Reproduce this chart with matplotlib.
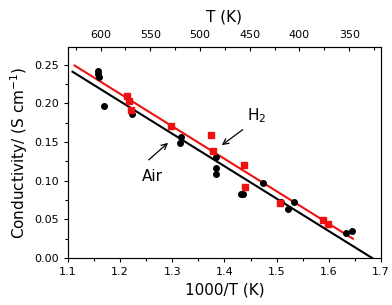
import matplotlib
matplotlib.use('Agg')
import matplotlib.pyplot as plt
from matplotlib.ticker import MultipleLocator

# Air data (black circles)
air_x = [1.158, 1.158, 1.159, 1.170, 1.223, 1.315, 1.317, 1.384, 1.384, 1.384,
         1.431, 1.436, 1.473, 1.508, 1.521, 1.533, 1.633, 1.644]
air_y = [0.242, 0.238, 0.234, 0.196, 0.186, 0.149, 0.157, 0.131, 0.117, 0.109,
         0.083, 0.083, 0.097, 0.073, 0.064, 0.073, 0.032, 0.035]

# H2 data (red squares)
h2_x = [1.214, 1.218, 1.221, 1.297, 1.374, 1.378, 1.438, 1.440, 1.506, 1.588, 1.599]
h2_y = [0.209, 0.203, 0.192, 0.171, 0.159, 0.139, 0.120, 0.092, 0.071, 0.049, 0.044]

# linear fits (end points)
air_fit_x = [1.109, 1.683]
air_fit_y = [0.241, 0.0]
h2_fit_x = [1.113, 1.646]
h2_fit_y = [0.249, 0.025]

top_ticks = [600, 550, 500, 450, 400, 350]

fig = plt.figure(figsize=(3.92, 3.05), dpi=100)
ax = fig.add_axes([0.173, 0.154, 0.799, 0.692])

ax.plot(air_fit_x, air_fit_y, color='black', lw=1.5)
ax.plot(h2_fit_x, h2_fit_y, color='#ee1111', lw=1.5)
ax.plot(air_x, air_y, 'o', color='black', ms=4)
ax.plot(h2_x, h2_y, 's', color='#ee1111', ms=4)

ax.set_xlim(1.1, 1.7)
ax.set_ylim(0, 0.273)
ax.xaxis.set_major_locator(MultipleLocator(0.1))
ax.xaxis.set_minor_locator(MultipleLocator(0.05))
ax.yaxis.set_major_locator(MultipleLocator(0.05))
ax.yaxis.set_minor_locator(MultipleLocator(0.025))
ax.tick_params(labelsize=8, length=3, width=0.8)
ax.tick_params(which='minor', length=2, width=0.8)
ax.set_xlabel('1000/T (K)', fontsize=11, labelpad=4)
ax.set_ylabel('Conductivity/ (S cm$^{-1}$)', fontsize=11, labelpad=3)
for s in ax.spines.values():
    s.set_color('#555555')

# top temperature axis (linear)
ax2 = ax.twiny()
ax2.set_xlim(633, 318)
ax2.set_xticks(top_ticks)
ax2.xaxis.set_minor_locator(MultipleLocator(25))
ax2.tick_params(direction='in', labelsize=8, length=3, width=0.8, pad=5)
ax2.tick_params(which='minor', direction='in', length=2, width=0.8)
ax2.set_xlabel('T (K)', fontsize=11, labelpad=6)

# labels and arrows
ax.text(1.462, 0.184, 'H$_2$', fontsize=11, ha='center', va='center')
ax.annotate('', xy=(1.395, 0.146), xytext=(1.435, 0.166),
            arrowprops=dict(arrowstyle='->', color='black', lw=0.9,
                            shrinkA=0, shrinkB=0))
ax.text(1.262, 0.106, 'Air', fontsize=11, ha='center', va='center')
ax.annotate('', xy=(1.292, 0.149), xytext=(1.255, 0.127),
            arrowprops=dict(arrowstyle='->', color='black', lw=0.9,
                            shrinkA=0, shrinkB=0))

fig.savefig('out.png', dpi=100)
